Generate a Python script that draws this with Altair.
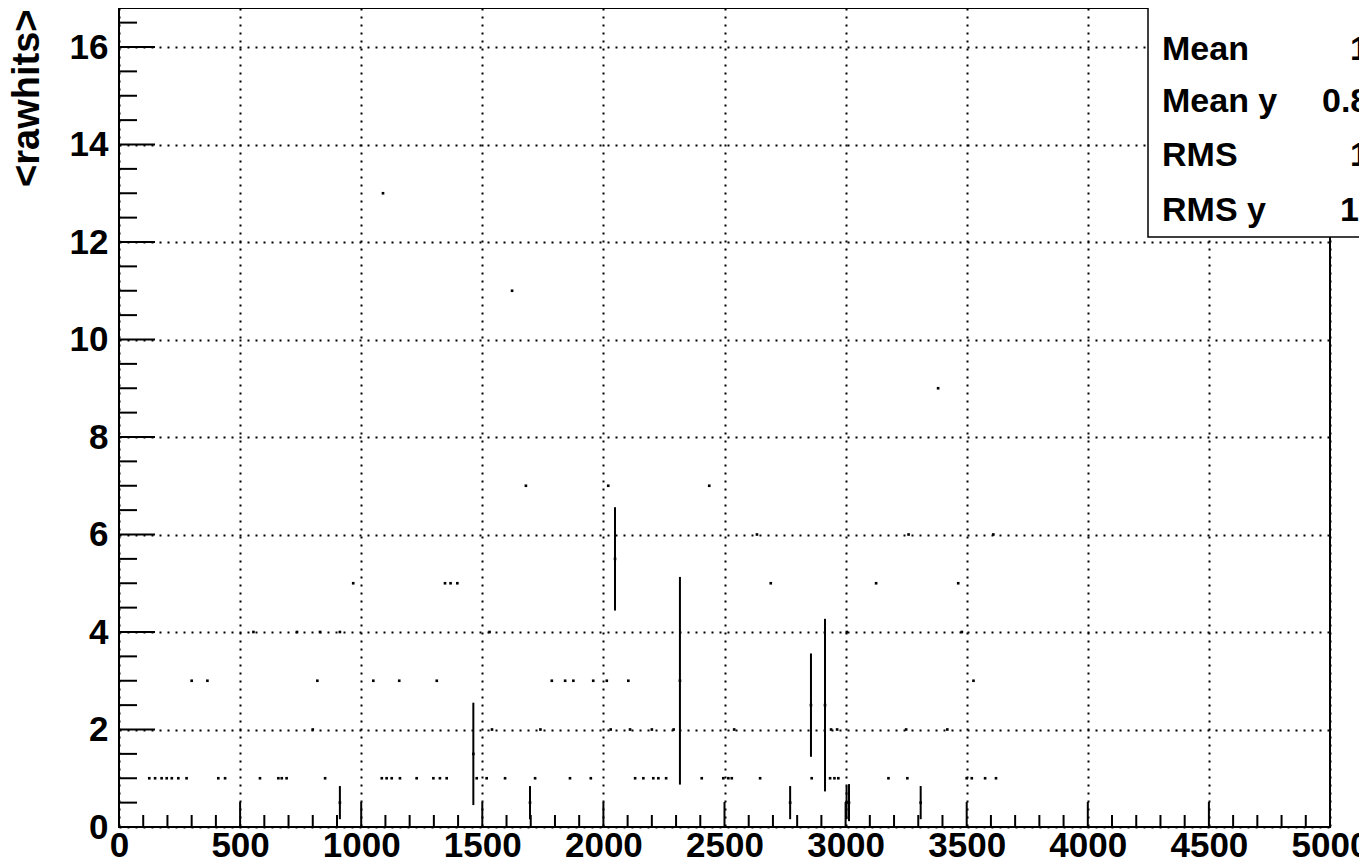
import altair as alt
import pandas as pd

# ---- data (profile bins) ----
# single-entry bins (no visible error) grouped by their integer mean value
dots_y1 = [125, 149, 176, 197, 218, 245, 279, 410, 438, 582, 658, 672, 692, 851,
           1085, 1105, 1126, 1160, 1229, 1298, 1325, 1353, 1477, 1518, 1594, 1718,
           1862, 1948, 2131, 2165, 2206, 2227, 2259, 2406, 2495, 2516, 2530, 2647,
           2860, 2936, 2954, 2970, 3177, 3255, 3500, 3521, 3576, 3621]
dots_y2 = [800, 1540, 1740, 2030, 2110, 2200, 2290, 2540, 2940, 2965, 3250, 3420]
dots_y3 = [300, 365, 819, 1050, 1157, 1312, 1787, 1842, 1876, 1958, 2014, 2103, 3528]
dots_y4 = [555, 735, 830, 912, 1530, 3005, 3480]
dots_y5 = [967, 1346, 1369, 1397, 2691, 3126, 3465]
dots_y6 = [2634, 3260, 3610]
dots_y7 = [1680, 2020, 2437]
dots_y9 = [3382]
dots_y11 = [1623]
dots_y13 = [1090]

# bins with a visible error bar
err_x = [912, 1463, 1697, 2048, 2316, 2771, 2857, 2915, 3004, 3014, 3310]
err_mean = [0.5, 1.5, 0.5, 5.5, 3.0, 0.5, 2.5, 2.5, 0.5, 0.5, 0.5]
err_half = [0.34, 1.05, 0.34, 1.06, 2.13, 0.34, 1.06, 1.77, 0.34, 0.38, 0.34]

x_major = list(range(0, 5001, 500))
x_minor = [v for v in range(0, 5001, 100) if v % 500 != 0]
y_major = list(range(0, 17, 2))
y_minor = [v / 2 for v in range(0, 34) if v % 4 != 0]

stat_names = ["Entries", "Mean", "Mean y", "RMS", "RMS y"]
stat_values = ["1093", "1944", "0.8437", "1013", "1.43"]

W, H = 1211, 819
FONT = "Liberation Sans"

rows = []
for yv, xs in [(1, dots_y1), (2, dots_y2), (3, dots_y3), (4, dots_y4), (5, dots_y5),
               (6, dots_y6), (7, dots_y7), (9, dots_y9), (11, dots_y11), (13, dots_y13)]:
    for xv in xs:
        rows.append({"x": xv, "y": yv})
dots = pd.DataFrame(rows)

errs = pd.DataFrame({"x": err_x, "mean": err_mean, "half": err_half})
errs["lo"] = errs["mean"] - errs["half"]
errs["hi"] = errs["mean"] + errs["half"]

xs = alt.Scale(domain=[0, 5000], nice=False, zero=False)
ys = alt.Scale(domain=[0, 16.8], nice=False, zero=False)

x_axis = alt.Axis(values=x_major, grid=True, gridDash=[2, 6], gridColor="black",
                  gridWidth=2, gridOpacity=1, ticks=False, domain=False,
                  labelFont=FONT, labelFontWeight="bold", labelFontSize=35,
                  labelColor="black", labelPadding=1, title=None, format="d",
                  labelFlush=False, labelOverlap=False)
y_axis = alt.Axis(values=y_major, grid=True, gridDash=[2, 6], gridColor="black",
                  gridWidth=2, gridOpacity=1, ticks=False, domain=False,
                  labelFont=FONT, labelFontWeight="bold", labelFontSize=35,
                  labelColor="black", labelPadding=11, format="d",
                  labelFlush=False, labelOverlap=False,
                  title="<rawhits>", titleFont=FONT, titleFontWeight="bold",
                  titleFontSize=38, titleColor="black", titleAngle=270,
                  titleAlign="right", titleBaseline="middle", titleX=-92, titleY=1)

base_dots = alt.Chart(dots).mark_square(size=7, color="black", opacity=1).encode(
    x=alt.X("x:Q", scale=xs, axis=x_axis),
    y=alt.Y("y:Q", scale=ys, axis=y_axis),
)

err_rules = alt.Chart(errs).mark_rule(color="black", strokeWidth=2).encode(
    x=alt.X("x:Q", scale=xs), y=alt.Y("lo:Q", scale=ys), y2="hi:Q")
err_pts = alt.Chart(errs).mark_square(size=7, color="black", opacity=1).encode(
    x=alt.X("x:Q", scale=xs), y=alt.Y("mean:Q", scale=ys))

def xticks(vals, length):
    return alt.Chart(pd.DataFrame({"v": vals})).mark_rule(color="black", strokeWidth=2).encode(
        x=alt.X("v:Q", scale=xs), y=alt.value(H), y2=alt.value(H - length))

def yticks(vals, length):
    return alt.Chart(pd.DataFrame({"v": vals})).mark_rule(color="black", strokeWidth=2).encode(
        y=alt.Y("v:Q", scale=ys), x=alt.value(0), x2=alt.value(length))

# statistics box
box = alt.Chart(pd.DataFrame({"a": [0]})).mark_rect(
    fill="white", stroke="black", strokeWidth=1.5).encode(
    x=alt.value(1029), x2=alt.value(1300), y=alt.value(-10), y2=alt.value(229))

stat_layers = []
baselines = [-3, 52, 104, 158, 213]
value_x = [1231, 1231, 1203, 1231, 1221]
for name, val, b, vx in zip(stat_names, stat_values, baselines, value_x):
    stat_layers.append(alt.Chart(pd.DataFrame({"a": [0]})).mark_text(
        font=FONT, fontWeight="bold", fontSize=34, align="left", baseline="alphabetic",
        color="black").encode(x=alt.value(1043), y=alt.value(b), text=alt.value(name)))
    stat_layers.append(alt.Chart(pd.DataFrame({"a": [0]})).mark_text(
        font=FONT, fontWeight="bold", fontSize=34, align="left", baseline="alphabetic",
        color="black").encode(x=alt.value(vx), y=alt.value(b), text=alt.value(val)))

chart = alt.layer(
    base_dots, err_rules, err_pts,
    xticks(x_major, 25), xticks(x_minor, 12),
    yticks(y_major, 36), yticks(y_minor, 18),
    box, *stat_layers
).properties(
    width=W, height=H,
    autosize=alt.AutoSizeParams(type="none"),
    padding={"left": 111, "top": 0, "right": 29, "bottom": 33},
    background="white",
).configure_view(stroke="black", strokeWidth=2)

chart.save("out.html", embed_options={"renderer": "svg", "actions": False})
